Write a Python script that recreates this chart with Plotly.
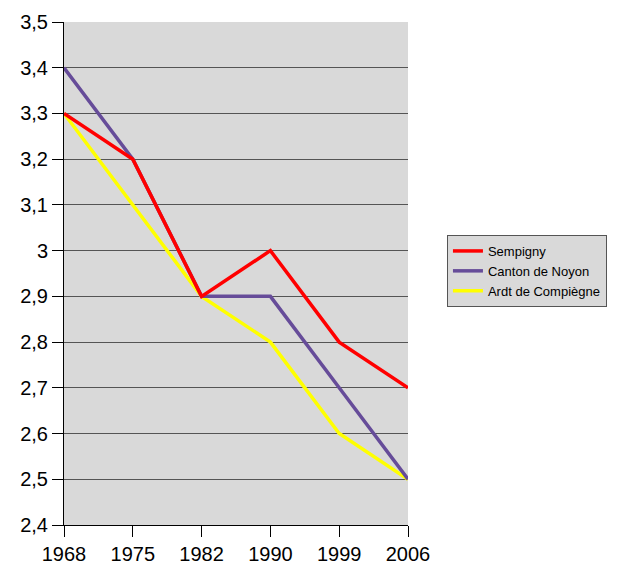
import plotly.graph_objects as go

years = ["1968", "1975", "1982", "1990", "1999", "2006"]
sempigny = [3.3, 3.2, 2.9, 3.0, 2.8, 2.7]
canton_noyon = [3.4, 3.2, 2.9, 2.9, 2.7, 2.5]
ardt_compiegne = [3.3, 3.1, 2.9, 2.8, 2.6, 2.5]

series = [
    ("Sempigny", sempigny, "#ff0000"),
    ("Canton de Noyon", canton_noyon, "#664c99"),
    ("Ardt de Compiègne", ardt_compiegne, "#ffff00"),
]

fig = go.Figure()
# draw in reverse so Sempigny ends on top, but keep legend order
for name, vals, color in reversed(series):
    fig.add_trace(
        go.Scatter(
            x=list(range(len(years))),
            y=vals,
            mode="lines",
            name=name,
            line=dict(color=color, width=3.5),
        )
    )

fig.update_layout(
    width=618,
    height=568,
    margin=dict(l=64, r=209, t=22, b=43),
    paper_bgcolor="white",
    plot_bgcolor="#d9d9d9",
    separators=", ",
    font=dict(family="Liberation Sans, Arial, sans-serif", color="black"),
    showlegend=True,
    legend=dict(
        traceorder="reversed",
        x=1.11,
        xanchor="left",
        y=0.505,
        yanchor="middle",
        bgcolor="#d9d9d9",
        bordercolor="#555555",
        borderwidth=1,
        font=dict(size=13, family="Liberation Sans, Arial, sans-serif"),
        itemwidth=30,
        tracegroupgap=2,
    ),
    xaxis=dict(
        range=[0, 5],
        tickmode="array",
        tickvals=list(range(len(years))),
        ticktext=years,
        showgrid=False,
        zeroline=False,
        showline=True,
        linecolor="black",
        linewidth=1,
        ticks="outside",
        ticklen=11,
        tickcolor="black",
        tickfont=dict(size=20),
        automargin=False,
    ),
    yaxis=dict(
        range=[2.4, 3.5],
        dtick=0.1,
        tick0=2.4,
        tickformat=".1~f",
        showgrid=True,
        gridcolor="#555555",
        gridwidth=1,
        zeroline=False,
        showline=True,
        linecolor="black",
        linewidth=1,
        ticks="outside",
        ticklen=11,
        tickcolor="black",
        tickfont=dict(size=20),
        automargin=False,
    ),
)

# page has a default 8px body margin; remove it so the figure sits at 0,0
fig.write_html(
    "out.html",
    config={"displayModeBar": False},
    post_script="document.body.style.margin='0';",
)
